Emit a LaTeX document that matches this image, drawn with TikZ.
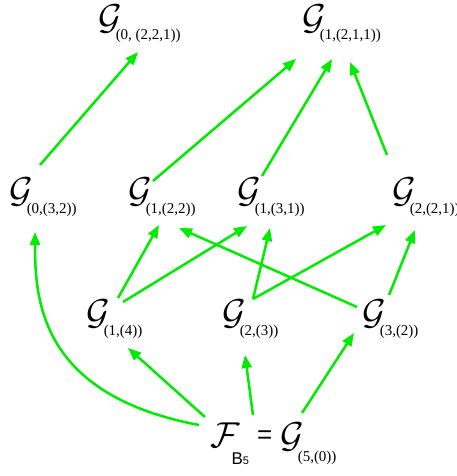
\documentclass[tikz,border=0pt]{standalone}
\usepackage{fontspec}
\usetikzlibrary{arrows.meta}
\newfontfamily\subfont{Liberation Serif}
\newfontfamily\bfont{Liberation Sans}
\definecolor{grn}{RGB}{0,235,0}
\newcommand{\gsub}[2][-11pt]{\scalebox{3.6}{$\mathcal{G}$}\kern-6pt\raisebox{#1}{\fontsize{15}{15}\subfont #2}}
\begin{document}
\begin{tikzpicture}[x=1pt,y=-1pt,
lbl/.style={inner sep=0pt,anchor=north west},
arrow/.style={-{Triangle[length=13pt,width=10pt]},line width=2.5pt,draw=grn}]
\useasboundingbox (0,0) rectangle (456,476);
\node[lbl](t1) at (98,5){\gsub[-10pt]{(0, (2,2,1))}};
\node[lbl](t2) at (302,5){\gsub[-10pt]{(1,(2,1,1))}};
\node[lbl](ma) at (9,178){\gsub{(0,(3,2))}};
\node[lbl](mb) at (128,178){\gsub{(1,(2,2))}};
\node[lbl](mc) at (237,178){\gsub{(1,(3,1))}};
\node[lbl](md) at (392,178){\gsub{(2,(2,1))}};
\node[lbl](la) at (86,300){\gsub{(1,(4))}};
\node[lbl](lb) at (222,300){\gsub{(2,(3))}};
\node[lbl](lc) at (362,300){\gsub{(3,(2))}};
\node[lbl](f) at (210,423){\scalebox{3.6}{$\mathcal{F}$}\kern-8pt\raisebox{-17pt}{\fontsize{17}{17}\bfont B\fontsize{11}{11}\selectfont 5}};
\node[lbl](eq) at (257,431){\fontsize{26}{26}\bfont =};
\node[lbl](g) at (280,423){\gsub[-14pt]{(5,(0))}};
\draw[arrow]([shift={(31,-13)}]ma.north west)--([shift={(40,47)}]t1.north west);
\draw[arrow]([shift={(25,3)}]mb.north west)--([shift={(-6,54)}]t2.north west);
\draw[arrow]([shift={(25,-2)}]mc.north west)--([shift={(30,54)}]t2.north west);
\draw[arrow]([shift={(-5,-23)}]md.north west)--([shift={(48,57)}]t2.north west);
\draw[arrow]([shift={(32,-2)}]la.north west)--([shift={(31,47)}]mb.north west);
\draw[arrow]([shift={(37,2)}]la.north west)--([shift={(10,48)}]mc.north west);
\draw[arrow]([shift={(31,-1)}]lb.north west)--([shift={(33,50)}]mc.north west);
\draw[arrow]([shift={(31,-1)}]lb.north west)--([shift={(-6,47)}]md.north west);
\draw[arrow]([shift={(-5,7)}]lc.north west)--([shift={(51,50)}]mb.north west);
\draw[arrow]([shift={(27,-5)}]lc.north west)--([shift={(23,52)}]md.north west);
\draw[arrow]([shift={(-11,2)}]f.north west) .. controls (40,395) and (35,300) .. ([shift={(26,54)}]ma.north west);
\draw[arrow]([shift={(-5,-6)}]f.north west)--([shift={(42,48)}]la.north west);
\draw[arrow]([shift={(43,-8)}]f.north west)--([shift={(23,55)}]lb.north west);
\draw[arrow]([shift={(22,-10)}]g.north west)--([shift={(-8,33)}]lc.north west);
\end{tikzpicture}
\end{document}
